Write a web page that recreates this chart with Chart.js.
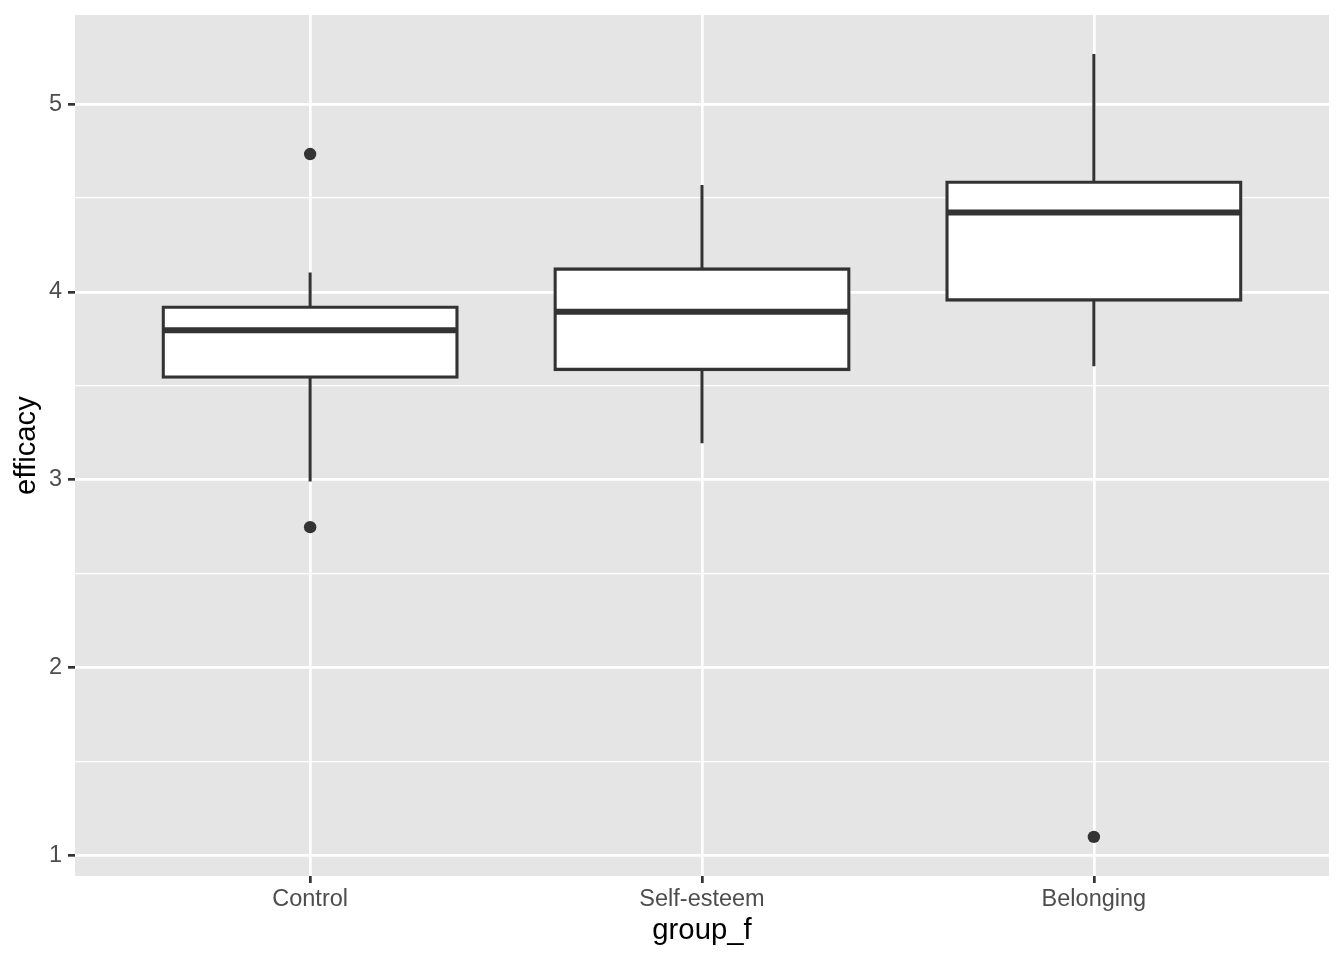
<!DOCTYPE html>
<html>
<head>
<meta charset="utf-8">
<script src="https://cdn.jsdelivr.net/npm/chart.js@4.4.1/dist/chart.umd.min.js"></script>
<style>
  html, body { margin: 0; padding: 0; background: #ffffff; }
  #wrap { width: 1344px; height: 960px; }
</style>
</head>
<body>
<div id="wrap"><canvas id="c" width="1344" height="960"></canvas></div>
<script>
// ---- data ----
const categories  = ['Control', 'Self-esteem', 'Belonging'];
const q1          = [3.546, 3.587, 3.957];
const medians     = [3.796, 3.894, 4.423];
const q3          = [3.919, 4.122, 4.584];
const whiskerLow  = [2.991, 3.195, 3.604];
const whiskerHigh = [4.104, 4.569, 5.266];
const outliers    = [[4.734, 2.748], [], [1.099]];
const yMajorTicks = [1, 2, 3, 4, 5];
const yMinorTicks = [1.5, 2.5, 3.5, 4.5];
const yLimits     = [0.891, 5.474];
const xLimits     = [0.4, 3.6];

// ---- styling constants ----
const BOX_WIDTH = 0.75;            // in x units (category spacing = 1)
const BOX_LINE = 3.3;
const INK = '#333333';
const FONT = '"Liberation Sans", Arial, Helvetica, sans-serif';

// ---- build datasets from the arrays ----
const xs = categories.map((_, i) => i + 1);

const boxData = xs.map((x, i) => ({ x: x, y: [q1[i], q3[i]] }));

const whiskerData = [];
xs.forEach((x, i) => {
  whiskerData.push({ x: x, y: q3[i] }, { x: x, y: whiskerHigh[i] }, { x: x, y: null });
  whiskerData.push({ x: x, y: q1[i] }, { x: x, y: whiskerLow[i] }, { x: x, y: null });
});

const medianData = [];
xs.forEach((x, i) => {
  medianData.push({ x: x - BOX_WIDTH / 2, y: medians[i] },
                  { x: x + BOX_WIDTH / 2, y: medians[i] },
                  { x: x, y: null });
});

const outlierData = [];
xs.forEach((x, i) => outliers[i].forEach(v => outlierData.push({ x: x, y: v })));

const panelBg = {
  id: 'panelBg',
  beforeDraw(chart) {
    const { ctx, chartArea: a } = chart;
    ctx.save();
    ctx.fillStyle = '#E5E5E5';
    ctx.fillRect(a.left, a.top, a.right - a.left, a.bottom - a.top);
    ctx.restore();
  }
};

new Chart(document.getElementById('c'), {
  type: 'bar',
  data: {
    datasets: [
      {
        type: 'line', label: 'median', data: medianData, order: 1,
        borderColor: INK, borderWidth: 6, pointRadius: 0, spanGaps: false,
        borderCapStyle: 'butt', fill: false
      },
      {
        type: 'scatter', label: 'outliers', data: outlierData, order: 1,
        pointRadius: 6.2, pointBackgroundColor: INK, pointBorderWidth: 0,
        pointHoverRadius: 6.2
      },
      {
        type: 'bar', label: 'box', data: boxData, order: 2,
        backgroundColor: '#FFFFFF', borderColor: INK, borderWidth: BOX_LINE,
        borderSkipped: false, barPercentage: BOX_WIDTH, categoryPercentage: 1,
        inflateAmount: BOX_LINE / 2   // centres the outline on the box edges
      },
      {
        type: 'line', label: 'whiskers', data: whiskerData, order: 3,
        borderColor: INK, borderWidth: 3, pointRadius: 0, spanGaps: false,
        borderCapStyle: 'butt', fill: false
      }
    ]
  },
  options: {
    responsive: false,
    animation: false,
    events: [],
    layout: { padding: { top: 15, right: 15, left: 0, bottom: 0 } },
    plugins: { legend: { display: false }, tooltip: { enabled: false } },
    scales: {
      x: {
        type: 'linear',
        offset: false,
        min: xLimits[0], max: xLimits[1],
        afterBuildTicks: s => { s.ticks = xs.map(v => ({ value: v })); },
        afterFit: s => { s.height = 84; s.paddingLeft = 0; s.paddingRight = 0; },
        grid: { offset: false, color: '#FFFFFF', lineWidth: 2.7, tickLength: 7, tickColor: INK, tickWidth: 2.7 },
        border: { display: false },
        ticks: {
          autoSkip: false, maxRotation: 0, padding: 2,
          color: '#4D4D4D', font: { family: FONT, size: 23.5 },
          callback: v => categories[Math.round(v) - 1]
        },
        title: {
          display: true, text: 'group_f', color: '#000000',
          font: { family: FONT, size: 29.3 }, padding: { top: 0, bottom: 12 }
        }
      },
      y: {
        type: 'linear',
        min: yLimits[0], max: yLimits[1],
        afterBuildTicks: s => {
          s.ticks = yMajorTicks.concat(yMinorTicks).sort((a, b) => a - b).map(v => ({ value: v }));
        },
        afterFit: s => { s.width = 75; s.paddingTop = 0; s.paddingBottom = 0; },
        grid: {
          color: '#FFFFFF',
          lineWidth: c => (yMajorTicks.includes(c.tick.value) ? 2.7 : 1.35),
          tickLength: 7,
          tickColor: c => (yMajorTicks.includes(c.tick.value) ? INK : 'rgba(0,0,0,0)'),
          tickWidth: 2.7
        },
        border: { display: false },
        ticks: {
          autoSkip: false, padding: 6,
          color: '#4D4D4D', font: { family: FONT, size: 23.5 },
          callback: v => (yMajorTicks.includes(v) ? String(v) : '')
        },
        title: {
          display: true, text: 'efficacy', color: '#000000',
          font: { family: FONT, size: 29.3 }, padding: { top: 9, bottom: 0 }
        }
      }
    }
  },
  plugins: [panelBg]
});
</script>
</body>
</html>
